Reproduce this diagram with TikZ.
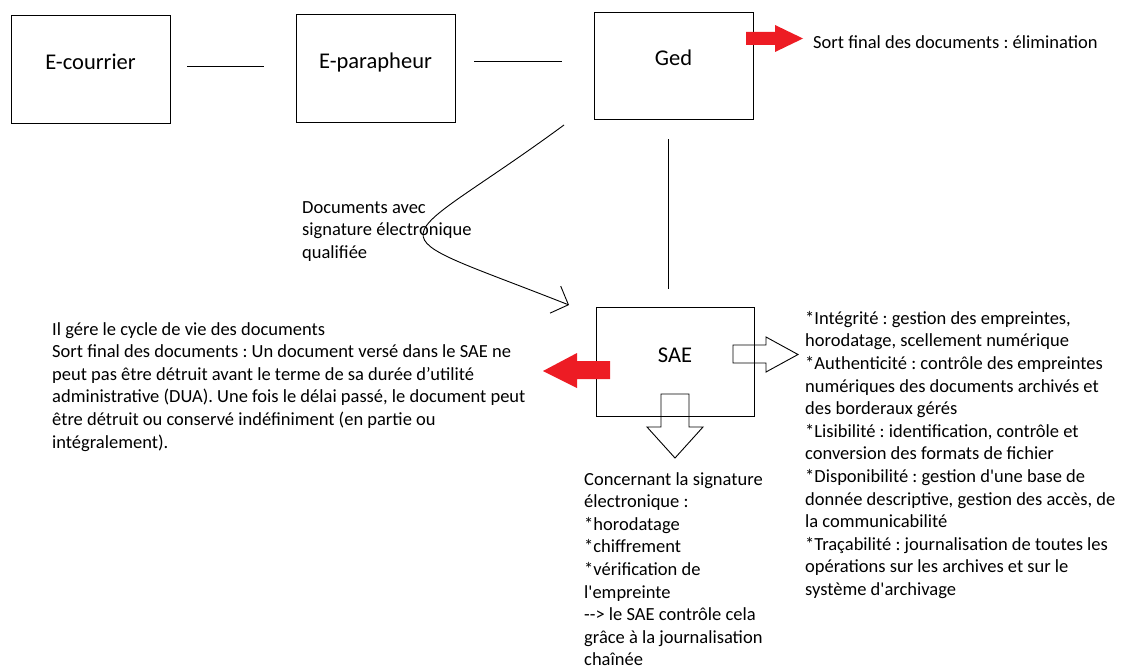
\documentclass[tikz,border=0pt]{standalone}
\usepackage{fontspec}
\setmainfont{Carlito}
\usetikzlibrary{arrows.meta}
\definecolor{arrowred}{HTML}{ED1C24}
\frenchspacing
\begin{document}
\begin{tikzpicture}[x=1pt,y=-1pt,
  box/.style={draw, line width=0.9pt, minimum width=159pt, minimum height=108pt, inner sep=0pt,
    text height=14pt, text depth=13pt, font=\fontsize{22.5}{27}\selectfont},
  txt/.style={anchor=north west, inner sep=0pt, align=left, font=\fontsize{18.5}{22.6}\selectfont},
  conn/.style={line width=0.9pt},
  redarrow/.style={fill=arrowred, draw=none},
  hollow/.style={draw, line width=0.9pt, line join=miter}]
\useasboundingbox (0,0) rectangle (1142,669);

% boxes
\node[box] (ec) at (90.5,69) {E-courrier};
\node[box] (ep) at (375.5,68) {E-parapheur};
\node[box, minimum height=107pt] (ged) at (673.5,65.5) {Ged};
\node[box, minimum width=158pt, minimum height=109pt] (sae) at (675,361.5) {SAE};

% connector lines (free-standing)
\coordinate (l1a) at (187,66);
\coordinate (l1b) at (264,66);
\coordinate (l2a) at (474,61);
\coordinate (l2b) at (562,61);
\coordinate (vla) at (668,139);
\coordinate (vlb) at (668,289);
\draw[conn] (l1a) -- (l1b);
\draw[conn] (l2a) -- (l2b);
\draw[conn] (vla) -- (vlb);

% curved arrow
\coordinate (cs) at (564,125);
\coordinate (ce) at (569,305);
\draw[conn, -{Straight Barb[length=14pt, width=29pt]}] (cs) .. controls (387,255) and (364,224) .. (ce);

% red arrows
\fill[redarrow] (746,32) -- (775,32) -- (775,25) -- (803,38.5) -- (775,52) -- (775,45) -- (746,45) -- cycle;
\fill[redarrow] (610,361) -- (577,361) -- (577,353) -- (543,371) -- (577,388) -- (577,379) -- (610,379) -- cycle;

% hollow arrows
\draw[hollow] (733,345) -- (766,345) -- (766,337) -- (798,354.5) -- (766,372) -- (766,363) -- (733,363) -- cycle;
\draw[hollow] (661,394) -- (689,394) -- (689,427) -- (703,427) -- (675,458) -- (647,427) -- (661,427) -- cycle;

% texts
\node[txt] (sortg) at (813,35) {Sort final des documents : élimination};
\node[txt] (docs) at (302,201) {Documents avec\\signature électronique\\qualifiée};
\node[txt] (left) at (52,322) {Il gére le cycle de vie des documents\\
Sort final des documents : Un document versé dans le SAE ne\\
peut pas être détruit avant le terme de sa durée d’utilité\\
administrative (DUA). Une fois le délai passé, le document peut\\
être détruit ou conservé indéfiniment (en partie ou\\
intégralement).};
\node[txt] (right) at (805,311) {*Intégrité : gestion des empreintes,\\
horodatage, scellement numérique\\
*Authenticité : contrôle des empreintes\\
numériques des documents archivés et\\
des borderaux gérés\\
*Lisibilité : identification, contrôle et\\
conversion des formats de fichier\\
*Disponibilité : gestion d\textquotesingle une base de\\
donnée descriptive, gestion des accès, de\\
la communicabilité\\
*Traçabilité : journalisation de toutes les\\
opérations sur les archives et sur le\\
système d\textquotesingle archivage};
\node[txt] (bottom) at (584,472) {Concernant la signature\\
électronique :\\
*horodatage\\
*chiffrement\\
*vérification de\\
l\textquotesingle empreinte\\
-{}-{}> le SAE contrôle cela\\
grâce à la journalisation\\
chaînée};
\end{tikzpicture}
\end{document}
